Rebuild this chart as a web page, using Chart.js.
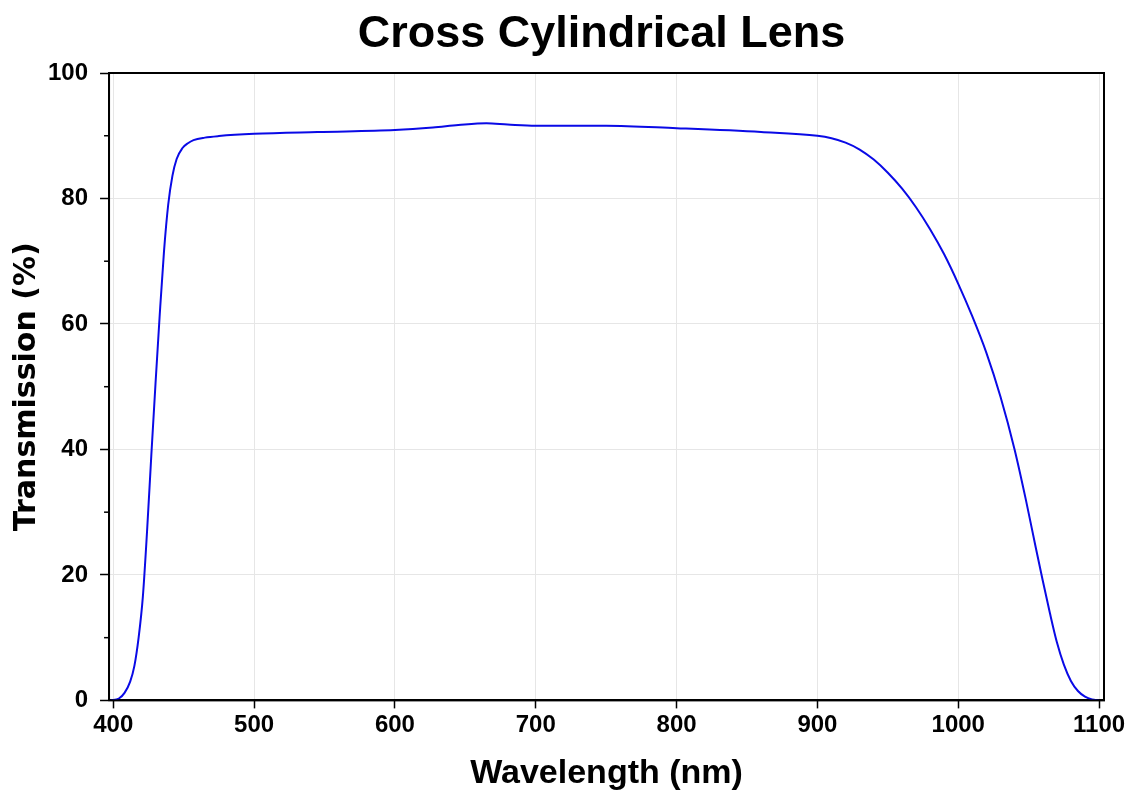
<!DOCTYPE html>
<html>
<head>
<meta charset="utf-8">
<title>Cross Cylindrical Lens</title>
<script src="https://cdn.jsdelivr.net/npm/chart.js@4.4.1/dist/chart.umd.min.js"></script>
<style>
  html, body { margin: 0; padding: 0; background: #fff; }
  #wrap { width: 1132px; height: 800px; }
</style>
</head>
<body>
<div id="wrap"><canvas id="chart" width="1132" height="800"></canvas></div>
<script>
// Transmission curve
const wavelengths = [398, 404, 408, 412, 415, 418, 421, 424, 427, 430, 433, 436, 439, 442, 445, 449, 453, 457,
  465, 475, 500, 545, 600, 627, 645, 665, 680, 700, 750, 800, 860, 900, 910, 920, 930, 940, 950, 960,
  970, 980, 990, 1000, 1010, 1020, 1030, 1040, 1048, 1055, 1060, 1065, 1070, 1075, 1080, 1085, 1090,
  1095, 1100];
const transmission = [0, 0.3, 1.2, 3.0, 5.5, 10, 16.5, 27, 39, 50.5, 61.5, 71.5, 79, 83.6, 86.3, 88.0, 88.8, 89.3,
  89.7, 89.95, 90.3, 90.6, 90.9, 91.3, 91.7, 92.0, 91.8, 91.6, 91.6, 91.2, 90.6, 90.0, 89.6, 88.9, 87.8, 86.2,
  84.1, 81.6, 78.6, 75.1, 71.1, 66.4, 61.2, 55.4, 48.4, 40.0, 32.0, 24.4, 19.1, 14.0, 9.3, 5.7, 3.1, 1.5,
  0.6, 0.15, 0];

const xTicks = [400, 500, 600, 700, 800, 900, 1000, 1100];
const yTicks = [0, 20, 40, 60, 80, 100];
const yMinorTicks = [10, 30, 50, 70, 90];

const chartTitle = 'Cross Cylindrical Lens';
const mainFont = "'Liberation Sans', Arial, sans-serif";

// Title over the plot, box frame, and small minor ticks on the y axis
const framePlugin = {
    id: 'frame',
    afterDraw(chart) {
        const { ctx, chartArea } = chart;
        const y = chart.scales.y;
        ctx.save();
        ctx.fillStyle = '#000';
        ctx.font = 'bold 45px ' + mainFont;
        ctx.textAlign = 'center';
        ctx.textBaseline = 'middle';
        ctx.fillText(chartTitle, (chartArea.left + chartArea.right) / 2 - 5, 35);

        ctx.strokeStyle = '#000';
        ctx.lineWidth = 2;
        ctx.strokeRect(chartArea.left, chartArea.top, chartArea.right - chartArea.left, chartArea.bottom - chartArea.top);
        ctx.lineWidth = 1.5;
        yMinorTicks.forEach(v => {
            const py = y.getPixelForValue(v);
            ctx.beginPath();
            ctx.moveTo(chartArea.left - 5, py);
            ctx.lineTo(chartArea.left, py);
            ctx.stroke();
        });
        ctx.restore();
    }
};

const ctx = document.getElementById('chart').getContext('2d');
new Chart(ctx, {
    type: 'line',
    data: {
        datasets: [{
            label: 'Transmission',
            data: wavelengths.map((w, i) => ({ x: w, y: transmission[i] })),
            borderColor: '#0a0ae6',
            borderWidth: 2,
            pointRadius: 0,
            fill: false,
            cubicInterpolationMode: 'monotone'
        }]
    },
    options: {
        responsive: false,
        animation: false,
        layout: {
            padding: { left: 12, right: 28, top: 73, bottom: 6 }
        },
        plugins: {
            legend: { display: false },
            tooltip: { enabled: false },
            title: { display: false }
        },
        scales: {
            x: {
                type: 'linear',
                min: 397,
                max: 1103.5,
                afterBuildTicks: scale => { scale.ticks = xTicks.map(v => ({ value: v })); },
                grid: {
                    color: '#e6e6e6',
                    lineWidth: 1,
                    tickColor: '#000',
                    tickWidth: 1.5,
                    tickLength: 8
                },
                border: { color: '#000', width: 2 },
                ticks: {
                    color: '#000',
                    font: { family: mainFont, size: 24, weight: 'bold' },
                    padding: 3,
                    maxRotation: 0,
                    callback: v => String(v)
                },
                title: {
                    display: true,
                    text: 'Wavelength (nm)',
                    color: '#000',
                    font: { family: mainFont, size: 34, weight: 'bold' },
                    padding: { top: 10, bottom: 0 }
                }
            },
            y: {
                min: 0,
                max: 100,
                afterBuildTicks: scale => { scale.ticks = yTicks.map(v => ({ value: v })); },
                grid: {
                    color: '#e6e6e6',
                    lineWidth: 1,
                    tickColor: '#000',
                    tickWidth: 1.5,
                    tickLength: 9
                },
                border: { color: '#000', width: 2 },
                ticks: {
                    color: '#000',
                    font: { family: mainFont, size: 24, weight: 'bold' },
                    padding: 12,
                    callback: v => String(v)
                },
                title: {
                    display: true,
                    text: 'Transmission (%)',
                    color: '#000',
                    font: { family: "'DejaVu Sans', Verdana, sans-serif", size: 30, weight: 'bold', lineHeight: 1 },
                    padding: { top: 0, bottom: -6 }
                }
            }
        }
    },
    plugins: [framePlugin]
});
</script>
</body>
</html>
